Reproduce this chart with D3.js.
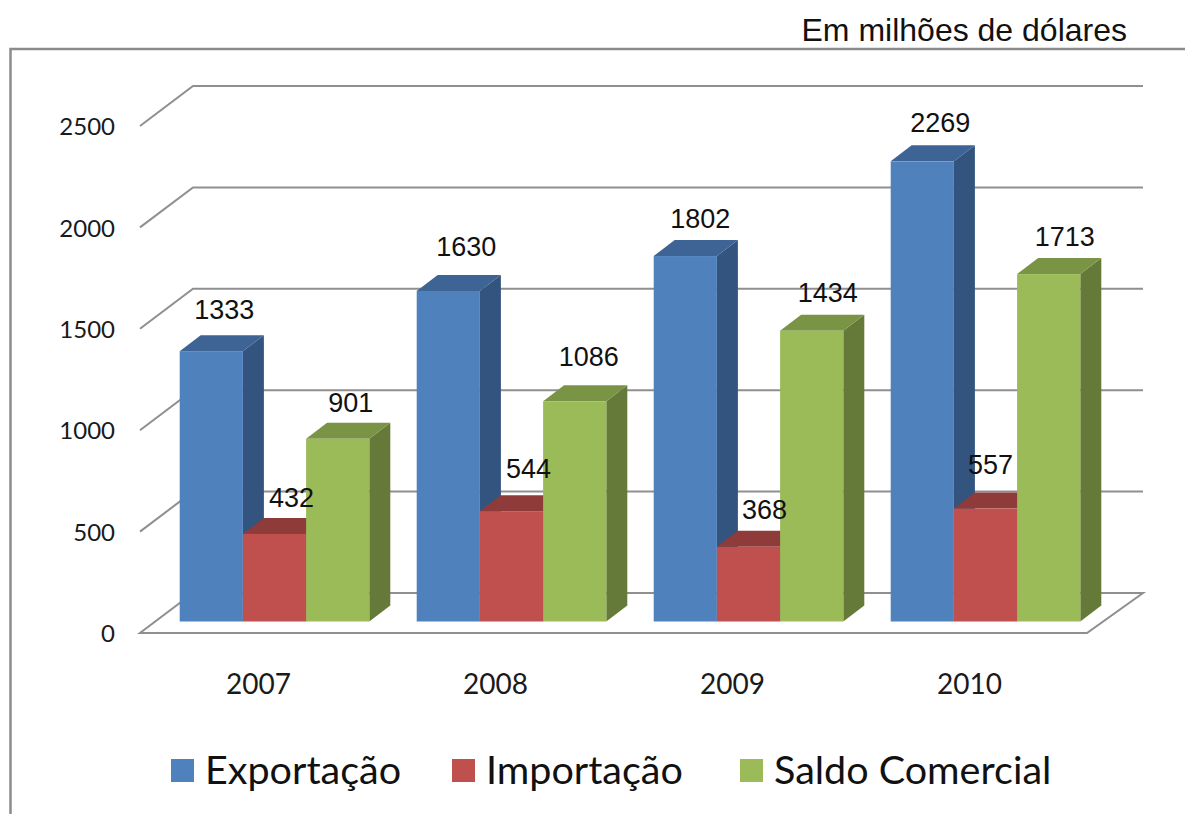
<!DOCTYPE html>
<html>
<head>
<meta charset="utf-8">
<script src="https://d3js.org/d3.v7.min.js"></script>
<style>
  html, body { margin: 0; background: #fff; }
  svg { display: block; }
  .grid { fill: none; stroke: #8f8f8f; stroke-width: 2; }
  .tick-label text { font-family: Lato, sans-serif; fill: #1a1a1a; }
  .y-labels text { font-size: 24px; }
  .x-labels text { font-size: 28px; }
  .value { font-family: "Liberation Sans", sans-serif; font-size: 27px; fill: #111; text-anchor: middle; }
</style>
</head>
<body>
<svg id="chart" width="1185" height="814"></svg>
<script>
const years = ["2007", "2008", "2009", "2010"];
const seriesNames = ["Exportação", "Importação", "Saldo Comercial"];
const exportacao = [1333, 1630, 1802, 2269];
const importacao = [432, 544, 368, 557];
const saldo = [901, 1086, 1434, 1713];
const yTicks = [0, 500, 1000, 1500, 2000, 2500];

// hand placed data labels, same order as the series
const labelNudge = [
  [[13, -42], [18, -44], [15, -38], [18, -39]],
  [[17, -36], [17, -43], [16, -37], [5, -44]],
  [[13, -36], [14, -45], [16, -38], [16, -38]]
];

const seriesValues = [exportacao, importacao, saldo];
const faceColors = ["#4f81bd", "#c0504d", "#9bbb59"];
const topColors = ["#3d6494", "#8f3b39", "#7a9446"];
const sideColors = ["#33547e", "#8f3b39", "#657a38"];

const svg = d3.select("#chart");

const floorDepth = { x: 53, y: -40 };
const barInset = { x: 16, y: -11.5 };
const barDepth = { x: 21, y: -16 };

const x = d3.scaleBand().domain(years).range([140, 1088]).paddingInner(0.2).paddingOuter(0.1);
const xSeries = d3.scaleBand().domain(d3.range(3)).range([0, x.bandwidth()]);
const y = d3.scaleLinear().domain([0, 2500]).range([633, 126]);

// outer frame, open at the right and the bottom of the picture
svg.append("path")
  .attr("d", "M10.5,814V49H1185")
  .attr("fill", "none")
  .attr("stroke", "#8c8c8c")
  .attr("stroke-width", 2.5);

svg.append("text")
  .attr("x", 1127)
  .attr("y", 41)
  .attr("text-anchor", "end")
  .attr("font-family", "Liberation Sans, sans-serif")
  .attr("font-size", 32)
  .attr("fill", "#111")
  .text("Em milhões de dólares");

// grid lines bent along the left wall
svg.append("g").selectAll("path")
  .data(yTicks.filter((d) => d > 0))
  .join("path")
  .attr("class", "grid")
  .attr("d", (d) => `M140,${y(d)}L${140 + floorDepth.x},${y(d) + floorDepth.y}H1143`);

const x0 = 140, x1 = 1087;
svg.append("path")
  .attr("class", "grid")
  .attr("d", `M${x0},${y(0)}H${x1}L${x1 + 56},${y(0) + floorDepth.y}H${x0 + floorDepth.x}Z`);

// bars, painted left to right so each one covers its neighbour's side
function poly(points) {
  return points.map((p) => p.join(",")).join(" ");
}

const bars = years.flatMap((year, i) =>
  seriesValues.map((vals, s) => ({ year, i, s, value: vals[i] }))
);

const barG = svg.append("g").selectAll("g")
  .data(bars)
  .join("g");

function corners(d) {
  const left = x(d.year) + xSeries(d.s) + barInset.x;
  const right = left + xSeries.bandwidth();
  const top = y(d.value) + barInset.y;
  const base = y(0) + barInset.y;
  return { left, right, top, base };
}

barG.append("polygon")
  .attr("fill", (d) => sideColors[d.s])
  .attr("points", (d) => {
    const c = corners(d);
    return poly([[c.right, c.top], [c.right + barDepth.x, c.top + barDepth.y],
      [c.right + barDepth.x, c.base + barDepth.y], [c.right, c.base]]);
  });

barG.append("polygon")
  .attr("fill", (d) => topColors[d.s])
  .attr("points", (d) => {
    const c = corners(d);
    return poly([[c.left, c.top], [c.left + barDepth.x, c.top + barDepth.y],
      [c.right + barDepth.x, c.top + barDepth.y], [c.right, c.top]]);
  });

barG.append("rect")
  .attr("fill", (d) => faceColors[d.s])
  .attr("x", (d) => corners(d).left)
  .attr("y", (d) => corners(d).top)
  .attr("width", xSeries.bandwidth())
  .attr("height", (d) => y(0) - y(d.value));

svg.append("g").selectAll("text")
  .data(bars)
  .join("text")
  .attr("class", "value")
  .attr("x", (d) => corners(d).left + xSeries.bandwidth() / 2 + labelNudge[d.s][d.i][0])
  .attr("y", (d) => corners(d).top + labelNudge[d.s][d.i][1])
  .attr("dy", "0.35em")
  .text((d) => d.value);

// axes only carry the labels, the lines are drawn above
const yAxis = d3.axisLeft(y).tickValues(yTicks).tickFormat(d3.format("d")).tickSize(0).tickPadding(0);
svg.append("g")
  .attr("class", "tick-label y-labels")
  .attr("transform", "translate(115,1)")
  .call(yAxis)
  .call((g) => g.select(".domain").remove());

const xLabels = d3.scaleBand().domain(years).range([140, 1088]);
const xAxis = d3.axisBottom(xLabels).tickSize(0).tickPadding(0);
svg.append("g")
  .attr("class", "tick-label x-labels")
  .attr("transform", "translate(0,674)")
  .call(xAxis)
  .call((g) => g.select(".domain").remove());

// legend
const legendX = [171, 452, 740];
const legend = svg.append("g").selectAll("g")
  .data(seriesNames)
  .join("g")
  .attr("transform", (d, i) => `translate(${legendX[i]},759)`);

legend.append("rect")
  .attr("width", 23)
  .attr("height", 23)
  .attr("fill", (d, i) => faceColors[i]);

legend.append("text")
  .attr("x", 34)
  .attr("y", 25)
  .attr("font-family", "Lato, sans-serif")
  .attr("font-size", 39.5)
  .attr("fill", "#111")
  .text((d) => d);
</script>
</body>
</html>
